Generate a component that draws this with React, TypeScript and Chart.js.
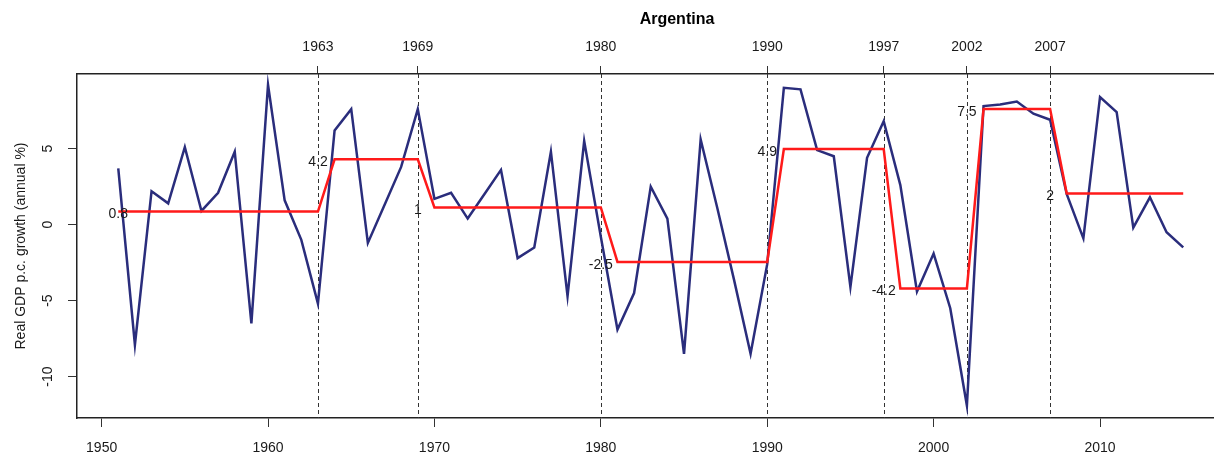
import React, { useEffect, useRef } from "react";
import { Chart, registerables } from "chart.js";

Chart.register(...registerables);

const years = [
  1951, 1952, 1953, 1954, 1955, 1956, 1957, 1958, 1959, 1960,
  1961, 1962, 1963, 1964, 1965, 1966, 1967, 1968, 1969, 1970,
  1971, 1972, 1973, 1974, 1975, 1976, 1977, 1978, 1979, 1980,
  1981, 1982, 1983, 1984, 1985, 1986, 1987, 1988, 1989, 1990,
  1991, 1992, 1993, 1994, 1995, 1996, 1997, 1998, 1999, 2000,
  2001, 2002, 2003, 2004, 2005, 2006, 2007, 2008, 2009, 2010,
  2011, 2012, 2013, 2014, 2015,
];

const growth = [
  3.7, -7.9, 2.2, 1.4, 5.1, 0.9, 2.1, 4.8, -6.5, 9.2,
  1.6, -1.0, -5.2, 6.2, 7.6, -1.2, 1.3, 3.8, 7.6, 1.7,
  2.1, 0.4, 2.0, 3.6, -2.2, -1.5, 4.8, -4.7, 5.5, -0.8,
  -6.9, -4.5, 2.5, 0.4, -8.5, 5.6, 1.1, -3.6, -8.5, -2.6,
  9.0, 8.9, 4.9, 4.5, -4.1, 4.4, 6.8, 2.6, -4.4, -1.9,
  -5.5, -11.9, 7.8, 7.9, 8.1, 7.3, 6.9, 2.0, -0.9, 8.4,
  7.4, -0.2, 1.8, -0.5, -1.5,
];

const breakYears = [1963, 1969, 1980, 1990, 1997, 2002, 2007];
const segmentLevels = [0.86, 4.3, 1.13, -2.45, 4.97, -4.2, 7.6, 2.05];
const segmentLabels = ["0.8", "4.2", "1", "-2.5", "4.9", "-4.2", "7.5", "2"];

const xTicks = [1950, 1960, 1970, 1980, 1990, 2000, 2010];
const yTicks = [-10, -5, 0, 5];

const X_MIN = 1948.52;
const X_MAX = 2016.85;
const Y_MIN = -12.72;
const Y_MAX = 9.91;

const FONT = '"Liberation Sans", Arial, sans-serif';
const TEXT = "#1a1a1a";
const AXIS = "#222222";

function segmentIndex(y: number): number {
  const i = breakYears.findIndex((b) => y <= b);
  return i < 0 ? breakYears.length : i;
}

const overlayPlugin = {
  id: "overlay",
  beforeDatasetsDraw(chart: any) {
    const { ctx, chartArea } = chart;
    const xs = chart.scales.x;
    ctx.save();
    ctx.strokeStyle = "#333333";
    ctx.lineWidth = 1;
    ctx.setLineDash([4, 3]);
    breakYears.forEach((b) => {
      const px = Math.round(xs.getPixelForValue(b)) + 0.5;
      ctx.beginPath();
      ctx.moveTo(px, chartArea.top);
      ctx.lineTo(px, chartArea.bottom);
      ctx.stroke();
    });
    ctx.restore();
  },
  afterDatasetsDraw(chart: any) {
    const { ctx } = chart;
    const xs = chart.scales.x;
    const ys = chart.scales.y;
    ctx.save();
    ctx.font = `14px ${FONT}`;
    ctx.fillStyle = TEXT;
    ctx.textAlign = "center";
    ctx.textBaseline = "middle";
    segmentLabels.forEach((lab, i) => {
      const xv = i === 0 ? years[0] : breakYears[i - 1];
      const px = xs.getPixelForValue(xv);
      const py = ys.getPixelForValue(segmentLevels[i]);
      ctx.fillText(lab, px, py + 3);
    });
    ctx.restore();
  },
  afterDraw(chart: any) {
    const { ctx, chartArea } = chart;
    const ys = chart.scales.y;
    ctx.save();
    ctx.font = `14px ${FONT}`;
    ctx.fillStyle = TEXT;
    ctx.textAlign = "center";
    ctx.textBaseline = "middle";
    yTicks.forEach((v) => {
      const py = ys.getPixelForValue(v);
      ctx.save();
      ctx.translate(chartArea.left - 29, py);
      ctx.rotate(-Math.PI / 2);
      ctx.fillText(String(v), 0, 0);
      ctx.restore();
    });
    ctx.font = `bold 16px ${FONT}`;
    ctx.fillStyle = "#000000";
    ctx.fillText("Argentina", chartArea.left + 600, 20);
    ctx.restore();
  },
};

export default function App() {
  const canvasRef = useRef<HTMLCanvasElement | null>(null);

  useEffect(() => {
    if (!canvasRef.current) return;
    const blueData = years.map((y, i) => ({ x: y, y: growth[i] }));
    const redData = years.map((y) => ({ x: y, y: segmentLevels[segmentIndex(y)] }));

    const chart = new Chart(canvasRef.current, {
      type: "line",
      data: {
        datasets: [
          {
            label: "Segment mean",
            data: redData,
            borderColor: "#ff1a1a",
            borderWidth: 2.5,
            pointRadius: 0,
            tension: 0,
            fill: false,
          },
          {
            label: "Growth",
            data: blueData,
            borderColor: "#2a2d7c",
            borderWidth: 2.5,
            pointRadius: 0,
            tension: 0,
            fill: false,
          },
        ],
      },
      options: {
        animation: false,
        responsive: true,
        maintainAspectRatio: false,
        parsing: true,
        layout: { padding: 0 },
        plugins: {
          legend: { display: false },
          title: { display: false },
          tooltip: { enabled: false },
        },
        scales: {
          x: {
            type: "linear",
            position: "bottom",
            min: X_MIN,
            max: X_MAX,
            afterBuildTicks: (axis: any) => {
              axis.ticks = xTicks.map((v) => ({ value: v }));
            },
            afterFit: (s: any) => {
              s.height = 38;
            },
            grid: {
              drawOnChartArea: false,
              drawTicks: true,
              tickLength: 9,
              color: "#333333",
              lineWidth: 1,
            },
            border: { display: true, color: AXIS, width: 1.5 },
            ticks: {
              font: { family: FONT, size: 14 },
              color: TEXT,
              padding: 13,
              maxRotation: 0,
              autoSkip: false,
              callback: (v: any) => String(v),
            },
          },
          x2: {
            type: "linear",
            axis: "x",
            position: "top",
            min: X_MIN,
            max: X_MAX,
            afterBuildTicks: (axis: any) => {
              axis.ticks = breakYears.map((v) => ({ value: v }));
            },
            afterFit: (s: any) => {
              s.height = 74;
            },
            grid: {
              drawOnChartArea: false,
              drawTicks: true,
              tickLength: 8,
              color: "#333333",
              lineWidth: 1,
            },
            border: { display: true, color: AXIS, width: 1.5 },
            ticks: {
              font: { family: FONT, size: 14 },
              color: TEXT,
              padding: 10,
              maxRotation: 0,
              autoSkip: false,
              callback: (v: any) => String(v),
            },
          },
          y: {
            type: "linear",
            position: "left",
            min: Y_MIN,
            max: Y_MAX,
            afterBuildTicks: (axis: any) => {
              axis.ticks = yTicks.map((v) => ({ value: v }));
            },
            afterFit: (s: any) => {
              s.width = 77;
            },
            grid: {
              drawOnChartArea: false,
              drawTicks: true,
              tickLength: 9,
              color: "#333333",
              lineWidth: 1,
            },
            border: { display: true, color: AXIS, width: 1.5 },
            ticks: { display: false },
            title: {
              display: true,
              text: "Real GDP p.c. growth (annual %)",
              font: { family: FONT, size: 14 },
              color: TEXT,
              padding: { top: 13, bottom: 0 },
            },
          },
        },
      },
      plugins: [overlayPlugin],
    });

    return () => {
      chart.destroy();
    };
  }, []);

  return (
    <div
      style={{
        position: "fixed",
        left: 0,
        top: 0,
        width: 1214,
        height: 456,
        background: "#ffffff",
      }}
    >
      <canvas ref={canvasRef} />
    </div>
  );
}
